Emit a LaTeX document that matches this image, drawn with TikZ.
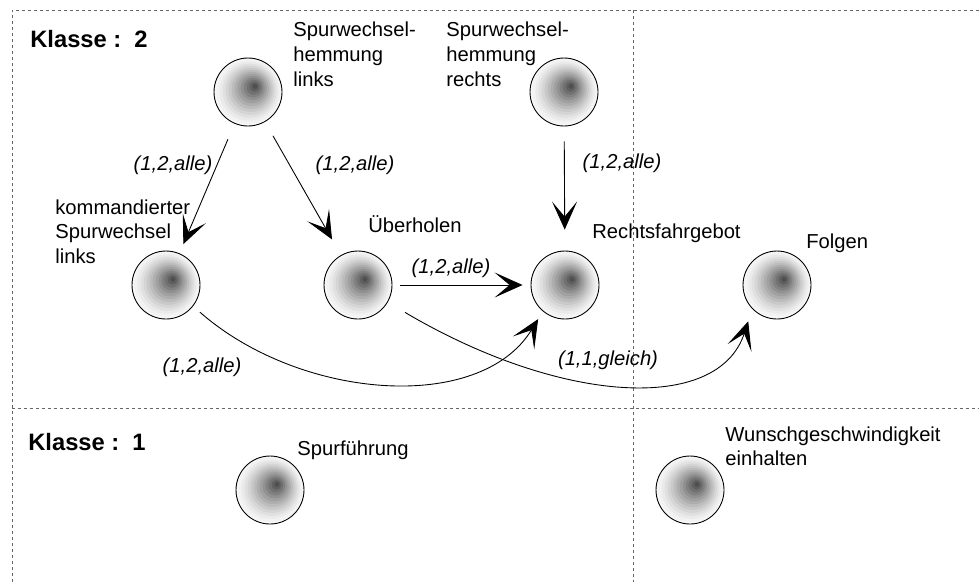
\documentclass[tikz,border=0pt]{standalone}
\usepackage{fontspec}
\setmainfont{Liberation Sans}
\usetikzlibrary{arrows.meta}
\begin{document}
\begin{tikzpicture}[x=0.02cm,y=-0.02cm,
  state/.style={circle, draw=black, line width=0.5pt, minimum size=1.36cm, inner sep=0pt,
    path picture={
      \foreach \k in {0,...,13}{
        \pgfmathsetmacro\rr{0.69*(1-\k/14)}
        \pgfmathsetmacro\fx{0.15*\k/14}
        \pgfmathsetmacro\fy{0.12*\k/14}
        \pgfmathsetmacro\cc{3+66*(\k/13)^1.35}
        \fill[black!\cc, shift={(path picture bounding box.center)}] (\fx cm,\fy cm) circle (\rr cm);
      }
    }},
  lbl/.style={font=\fontsize{11.5}{14}\selectfont, inner sep=0pt, align=left},
  elbl/.style={font=\fontsize{11.5}{14}\selectfont\itshape, inner sep=0pt},
  cls/.style={font=\fontsize{13.5}{16}\selectfont\bfseries, inner sep=0pt, anchor=base west},
  arr/.style={-{Stealth[length=0.56cm,width=0.5cm,inset=0.3cm]}, line width=0.5pt},
  gridline/.style={draw=black!60, dash pattern=on 0.06cm off 0.06cm, line width=0.4pt}]
\useasboundingbox (0,0) rectangle (979,582);
% frame lines
\draw[gridline] (12,582) -- (12,10) -- (979,10);
\draw[gridline] (12,408) -- (979,408);
\draw[gridline] (633,10) -- (633,582);
% states
\node[state] (shl) at (248,92) {};
\node[state] (shr) at (564,92) {};
\node[state] (ksl) at (166,285) {};
\node[state] (ubh) at (358,285) {};
\node[state] (rfg) at (565,285) {};
\node[state] (fol) at (777,285) {};
\node[state] (spf) at (270,490) {};
\node[state] (wun) at (690,490) {};
% texts
\node[cls] (k2) at (30,47) {Klasse :~~2};
\node[cls] (k1) at (28,450) {Klasse :~~1};
\node[lbl, anchor=north west] (tshl) at (293,22) {Spurwechsel-\\hemmung\\links};
\node[lbl, anchor=north west] (tshr) at (446,22) {Spurwechsel-\\hemmung\\rechts};
\node[lbl, anchor=north west] (tksl) at (55,199) {kommandierter\\Spurwechsel\\links};
\node[lbl, anchor=base west] (tubh) at (368,232) {Überholen};
\node[lbl, anchor=base west] (trfg) at (592,238) {Rechtsfahrgebot};
\node[lbl, anchor=base west] (tfol) at (806,248) {Folgen};
\node[lbl, anchor=base west] (tspf) at (297,455) {Spurführung};
\node[lbl, anchor=north west] (twun) at (725,426) {Wunschgeschwindigkeit\\einhalten};
% connectors
\draw[arr, shorten <=0.34cm, shorten >=0.2cm] (shl) -- (ksl);
\draw[arr, shorten <=0.32cm, shorten >=0.36cm] (shl) -- (ubh);
\draw[arr, shorten <=0.3cm, shorten >=0.42cm] (shr) -- (rfg);
\draw[arr, shorten <=0.16cm, shorten >=0.16cm] (ubh) -- (rfg);
\draw[arr, shorten <=0.18cm, shorten >=0.18cm] (ksl.-38) .. controls (300,400) and (480,414) .. (rfg.-130);
\draw[arr, shorten <=0.4cm, shorten >=0.26cm] (ubh.-30) .. controls (560,404) and (718,414) .. (fol.-136);
% connector labels
\node[elbl] (l1) at (173,165) {(1,2,alle)};
\node[elbl] (l2) at (355,165) {(1,2,alle)};
\node[elbl] (l3) at (622,163) {(1,2,alle)};
\node[elbl] (l4) at (451,268) {(1,2,alle)};
\node[elbl] (l5) at (202,367) {(1,2,alle)};
\node[elbl] (l6) at (608,360) {(1,1,gleich)};
\end{tikzpicture}
\end{document}
